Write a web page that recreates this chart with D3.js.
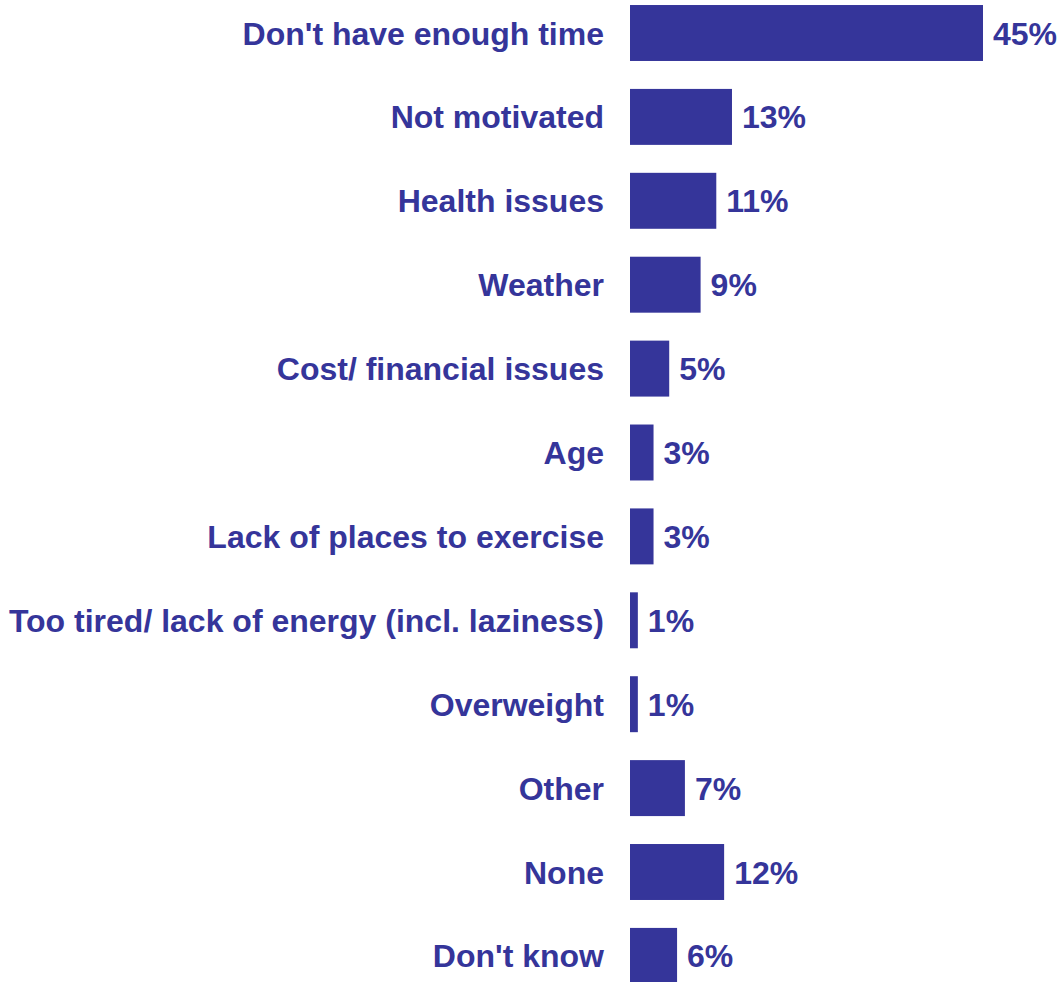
<!DOCTYPE html>
<html>
<head>
<meta charset="utf-8">
<script src="https://cdn.jsdelivr.net/npm/d3@7"></script>
<style>
  html, body { margin: 0; padding: 0; background: #ffffff; }
  svg { display: block; }
  text { font-family: "Liberation Sans", Arial, Helvetica, sans-serif; font-weight: bold; }
</style>
</head>
<body>
<svg id="chart" width="1059" height="982"></svg>
<script>
// Reasons for not exercising, share of respondents (%)
const categories = [
  "Don't have enough time",
  "Not motivated",
  "Health issues",
  "Weather",
  "Cost/ financial issues",
  "Age",
  "Lack of places to exercise",
  "Too tired/ lack of energy (incl. laziness)",
  "Overweight",
  "Other",
  "None",
  "Don't know"
];
const values = [45, 13, 11, 9, 5, 3, 3, 1, 1, 7, 12, 6];

const barColor = "#35359a";
const width = 1059, height = 982;

const svg = d3.select("#chart");

const x = d3.scaleLinear()
  .domain([0, 45])
  .range([630, 983]);

const step = 83.9;
const y = d3.scaleBand()
  .domain(categories)
  .range([33 - step / 2, 33 - step / 2 + step * categories.length])
  .paddingInner(0.333)
  .paddingOuter(0.1665);

const rows = svg.selectAll("g.row")
  .data(categories.map((c, i) => ({ name: c, value: values[i] })))
  .join("g")
  .attr("class", "row");

rows.append("rect")
  .attr("x", x(0))
  .attr("y", d => y(d.name))
  .attr("width", d => x(d.value) - x(0))
  .attr("height", y.bandwidth())
  .attr("fill", barColor);

rows.append("text")
  .attr("x", x(0) - 26)
  .attr("y", d => y(d.name) + y.bandwidth() / 2)
  .attr("dy", "0.36em")
  .attr("text-anchor", "end")
  .attr("font-size", 32)
  .attr("fill", barColor)
  .text(d => d.name);

rows.append("text")
  .attr("x", d => x(d.value) + 10)
  .attr("y", d => y(d.name) + y.bandwidth() / 2)
  .attr("dy", "0.36em")
  .attr("text-anchor", "start")
  .attr("font-size", 32)
  .attr("fill", barColor)
  .text(d => d.value + "%");
</script>
</body>
</html>
